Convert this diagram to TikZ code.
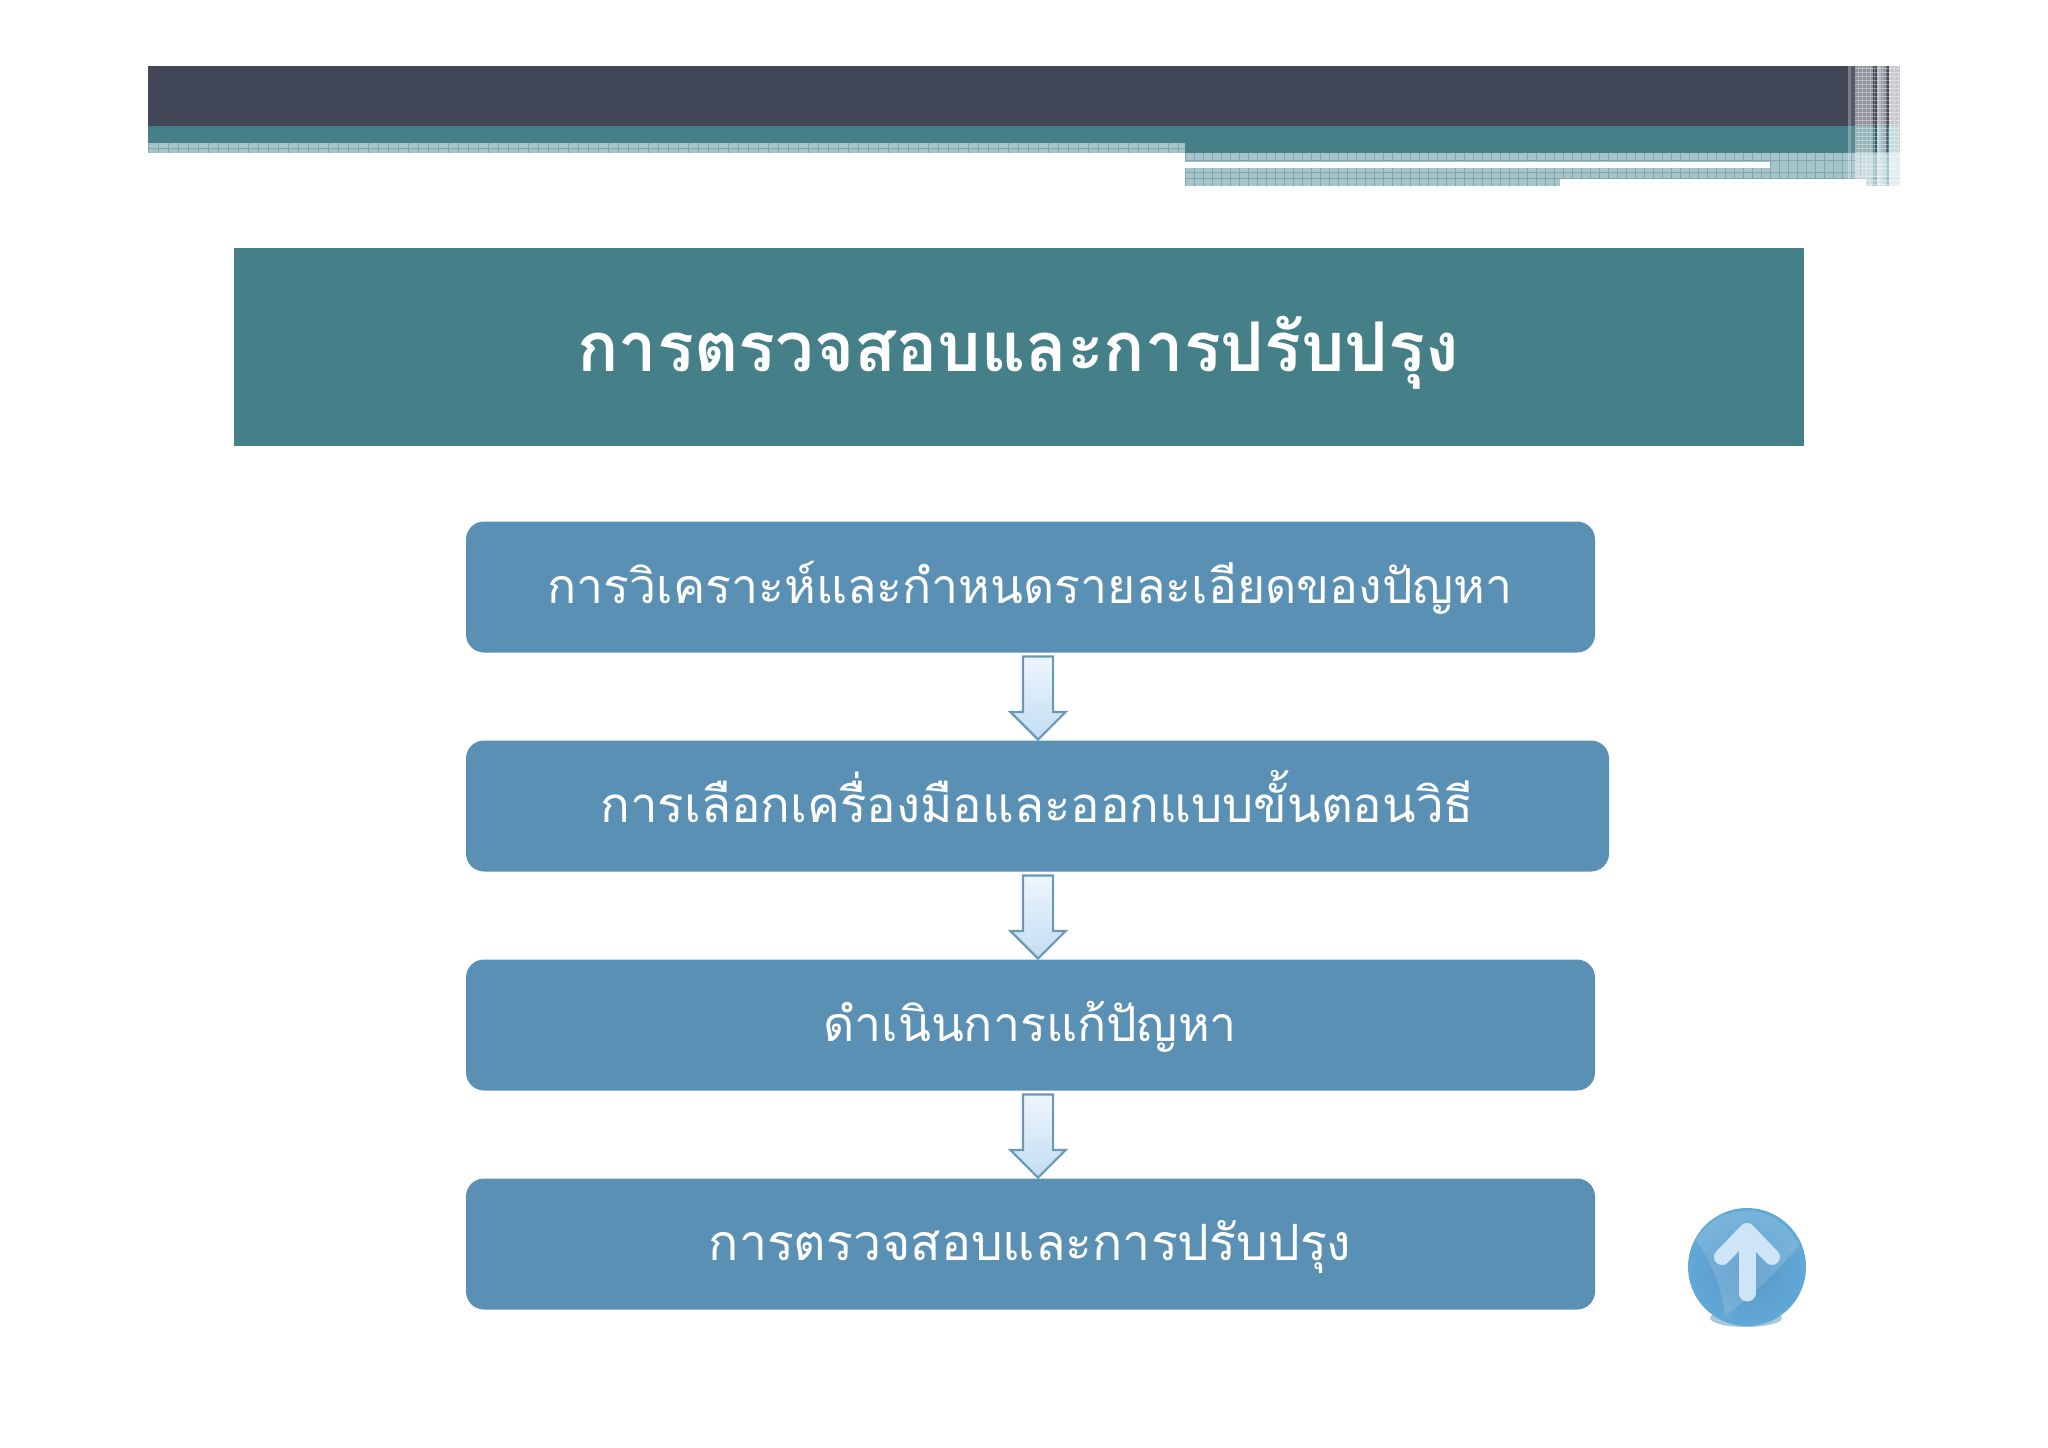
\documentclass[tikz,border=0pt]{standalone}
\usepackage{fontspec}
\newfontfamily\thaifont[Script=Thai]{Loma}
\usetikzlibrary{shapes.arrows,shadings}
\definecolor{barDark}{HTML}{424757}
\definecolor{barTeal}{HTML}{457F87}
\definecolor{barLight}{HTML}{A6C5CA}
\definecolor{gridLine}{HTML}{80A6AC}
\definecolor{stepFill}{HTML}{5B90B5}
\definecolor{arrowEdge}{HTML}{6C98B8}
\definecolor{arrowTop}{HTML}{EEF5FC}
\definecolor{arrowBottom}{HTML}{C3DDF3}
\definecolor{ballIn}{HTML}{5595C4}
\definecolor{ballOut}{HTML}{62A9D8}
\definecolor{ballShadow}{HTML}{7FB0CC}
\definecolor{ballArrow}{HTML}{CDE5F6}
\tikzset{
  x=0.5pt,y=-0.5pt,
  titlebox/.style={fill=barTeal,draw=none,minimum width=785pt,minimum height=99pt,inner sep=0pt,text=white},
  stepbox/.style={fill=stepFill,draw=none,rounded corners=9pt,minimum height=65.5pt,inner sep=0pt,text=white},
  steptext/.style={text=white,inner sep=0pt,anchor=base},
  downarrow/.style={single arrow,shape border rotate=270,draw=arrowEdge,line width=1.1pt,
    minimum height=41.5pt,minimum width=27pt,single arrow head extend=6.2pt,single arrow tip angle=90,
    inner xsep=7pt,inner ysep=0pt,top color=arrowTop,bottom color=arrowBottom},
  gridln/.style={gridLine,line width=0.3pt},
}
\begin{document}
\begin{tikzpicture}
\useasboundingbox (0,0) rectangle (2048,1447);
% header band
\fill[barDark] (148,66) rectangle (1900,126);
\fill[barTeal] (148,126) rectangle (1900,143);
\fill[barTeal] (1185,143) rectangle (1900,153);
\fill[barLight] (148,143) rectangle (1185,153);
\fill[barLight] (1185,153) rectangle (1900,179);
\fill[barLight] (1185,179) rectangle (1560,186);
\fill[barLight] (1866,179) rectangle (1900,186);
\foreach \gx in {148,158,...,1185} \draw[gridln] (\gx,143) -- (\gx,153);
\foreach \gx in {1185,1194,...,1866} \draw[gridln] (\gx,153) -- (\gx,179);
\foreach \gx in {1185,1194,...,1560} \draw[gridln] (\gx,179) -- (\gx,186);
\draw[gridln] (148,148) -- (1185,148);
\draw[gridln] (1185,160) -- (1900,160);
\draw[gridln] (1185,178) -- (1900,178);
\draw[gridln] (1185,172) -- (1900,172);
\fill[white] (1185,162) rectangle (1770,168);
% end stripes
\fill[white,opacity=.30] (1848,66) rectangle (1851,186);
\fill[white,opacity=.10] (1851,66) rectangle (1855,186);
\fill[white,opacity=.42] (1855,66) rectangle (1873,186);
\fill[white,opacity=.60] (1877,66) rectangle (1881,186);
\fill[white,opacity=.45] (1881,66) rectangle (1886,186);
\fill[white,opacity=.70] (1889,66) rectangle (1900,186);
\fill[barDark,opacity=.8] (1875,66) rectangle (1877,153);
\fill[barDark,opacity=.8] (1886,66) rectangle (1888,153);
\foreach \gy in {68,72,...,186} \draw[white,opacity=.35,line width=0.5pt] (1855,\gy) -- (1900,\gy);
\foreach \gx in {1858,1862,...,1898} \draw[white,opacity=.25,line width=0.5pt] (\gx,66) -- (\gx,186);
% title
\node[titlebox] (title) at (1019,346.5) {};
\node[steptext] (titletext) at (1018,371) {\thaifont\bfseries\fontsize{34.3}{40}\selectfont การตรวจสอบและการปรับปรุง};
% steps
\node[stepbox,minimum width=564.5pt] (s1) at (1030.5,587) {};
\node[stepbox,minimum width=571.5pt] (s2) at (1037.5,806) {};
\node[stepbox,minimum width=564.5pt] (s3) at (1030.5,1025) {};
\node[stepbox,minimum width=564.5pt] (s4) at (1030.5,1244) {};
\node[steptext] (t1) at (1030,603) {\thaifont\fontsize{24.1}{30}\selectfont การวิเคราะห์และกำหนดรายละเอียดของปัญหา};
\node[steptext] (t2) at (1037,822) {\thaifont\fontsize{24.6}{30}\selectfont การเลือกเครื่องมือและออกแบบขั้นตอนวิธี};
\node[steptext] (t3) at (1030,1041) {\thaifont\fontsize{24.1}{30}\selectfont ดำเนินการแก้ปัญหา};
\node[steptext] (t4) at (1030,1260) {\thaifont\fontsize{25}{30}\selectfont การตรวจสอบและการปรับปรุง};
% arrows
\node[downarrow] (a1) at (1038,690.5) {};
\node[downarrow] (a2) at (1038,909.5) {};
\node[downarrow] (a3) at (1038,1128.5) {};
% up button
\fill[ballShadow,opacity=.7] (1746,1318) ellipse (36 and 9);
\shade[inner color=ballIn,outer color=ballOut] (1747,1267) circle (59);
\fill[white,opacity=.14] (1696,1240) .. controls (1720,1200) and (1775,1200) .. (1799,1245)
  .. controls (1780,1268) and (1760,1290) .. (1725,1316) .. controls (1722,1290) and (1712,1262) .. (1696,1240) -- cycle;
\draw[ballArrow,line width=8pt,line cap=round,line join=round]
  (1722,1257) -- (1747,1231) -- (1772,1257);
\draw[ballArrow,line width=8.5pt,line cap=round] (1747,1236) -- (1747,1293);
\end{tikzpicture}
\end{document}
